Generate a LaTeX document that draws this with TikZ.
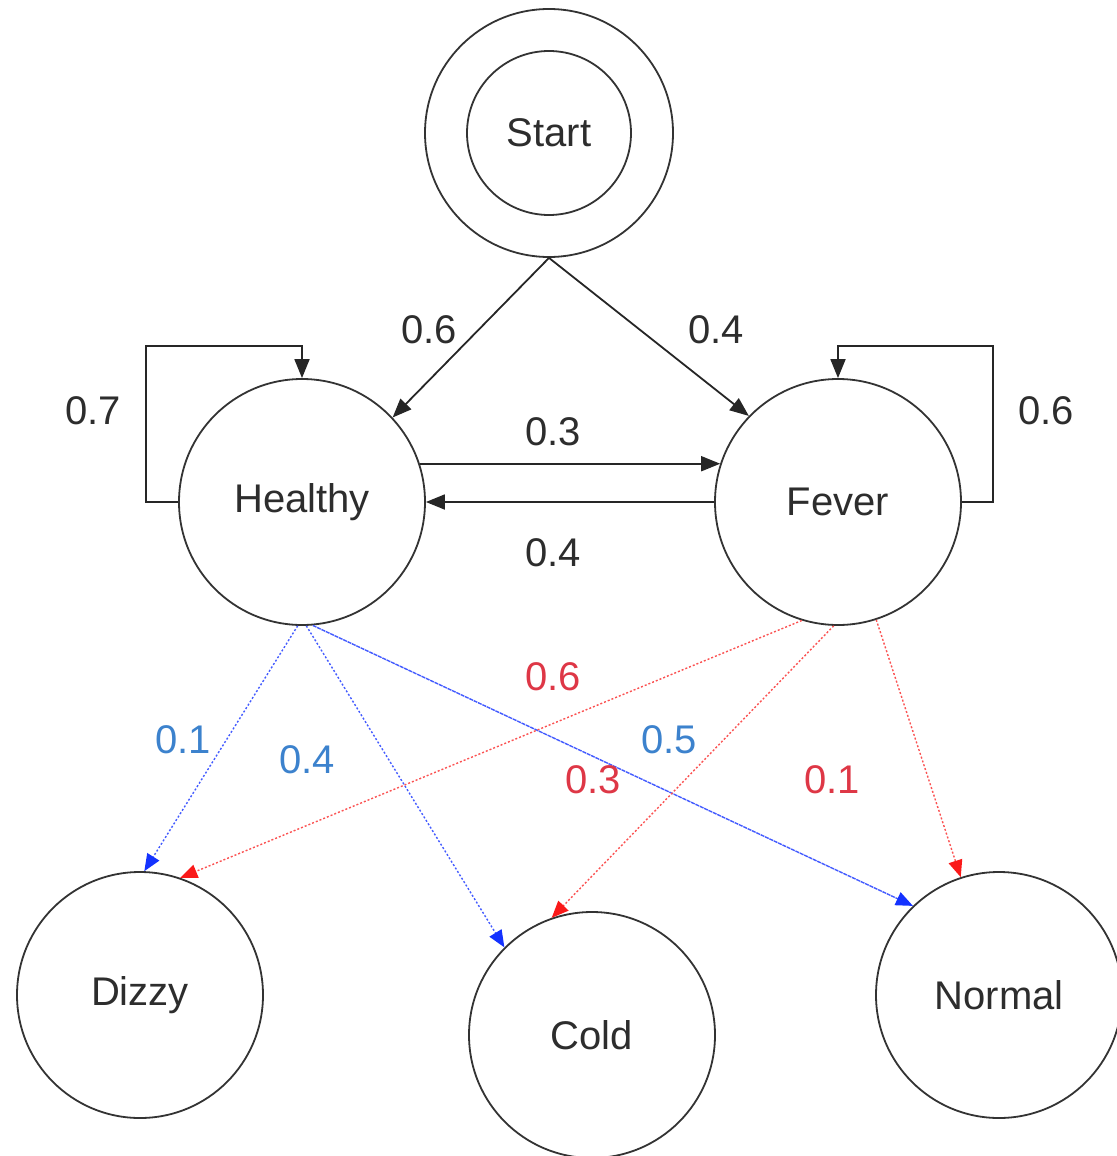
\documentclass[tikz,border=0pt]{standalone}
\usepackage{fontspec}
\setmainfont{Liberation Sans}
\usetikzlibrary{arrows.meta,calc}
\definecolor{txt}{RGB}{45,45,45}
\definecolor{bluelab}{RGB}{60,130,205}
\definecolor{redlab}{RGB}{222,55,70}
\definecolor{blueln}{RGB}{20,50,255}
\definecolor{redln}{RGB}{250,25,25}
\begin{document}
\begin{tikzpicture}[x=0.5pt,y=-0.5pt,
  state/.style={circle,draw=black!80,line width=0.9pt,minimum size=123pt,inner sep=0pt,text=txt,font=\fontsize{20}{24}\selectfont},
  lab/.style={text=txt,font=\fontsize{20}{24}\selectfont,inner sep=0pt},
  blab/.style={lab,text=bluelab},
  rlab/.style={lab,text=redlab},
  trans/.style={draw=black!85,line width=0.9pt,-{Triangle[length=9.5pt,width=7.5pt]}},
  bemit/.style={draw=blueln!80,line width=0.7pt,dash pattern=on 1pt off 1pt,-{Triangle[length=8.5pt,width=7pt,fill=blueln,color=blueln]}},
  remit/.style={draw=redln!75,line width=0.7pt,dash pattern=on 1pt off 1pt,-{Triangle[length=8.5pt,width=7pt,fill=redln,color=redln]}}]
\useasboundingbox (0,0) rectangle (1117,1156);
% states
\node[state,minimum size=124pt] (startouter) at (549,133) {};
\node[state,minimum size=82pt] (start) at (549,133) {Start};
\node[state] (healthy) at (302,502) {Healthy};
\node[state] (fever) at (838,502) {Fever};
\node[state] (dizzy) at (140,995) {Dizzy};
\node[state] (cold) at (592,1035) {Cold};
\node[state] (normal) at (999,995) {Normal};
% loop corners
\coordinate (hl1) at ($(healthy.west)+(-32,0)$);
\coordinate (hl2) at ($(healthy.north)+(0,-32)$);
\coordinate (fl1) at ($(fever.east)+(31,0)$);
\coordinate (fl2) at ($(fever.north)+(0,-32)$);
% transitions
\draw[trans] (startouter.south) -- (healthy.43);
\draw[trans] (startouter.south) -- (fever.136);
\draw[trans] (healthy.west) -- (hl1) |- (hl2) -- (healthy.north);
\draw[trans] (fever.east) -- (fl1) |- (fl2) -- (fever.north);
\draw[trans] (healthy.18) -- (fever.162);
\draw[trans] (fever.west) -- (healthy.east);
% emissions
\draw[bemit] (healthy.268) -- (dizzy.88);
\draw[bemit] (healthy.272) -- (cold.135);
\draw[bemit,dash pattern=on 2pt off 0.4pt] (healthy.275) -- (normal.134);
\draw[remit] (fever.253) -- (dizzy.71);
\draw[remit] (fever.268) -- (cold.109);
\draw[remit] (fever.-72) -- (normal.108);
% labels
\node[lab] (l1) at (429,330) {0.6};
\node[lab] (l2) at (716,330) {0.4};
\node[lab] (l3) at (93,411) {0.7};
\node[lab] (l4) at (1046,411) {0.6};
\node[lab] (l5) at (553,432) {0.3};
\node[lab] (l6) at (553,553) {0.4};
\node[blab] (e1) at (183,740) {0.1};
\node[blab] (e2) at (307,760) {0.4};
\node[blab] (e3) at (669,740) {0.5};
\node[rlab] (e4) at (553,677) {0.6};
\node[rlab] (e5) at (593,780) {0.3};
\node[rlab] (e6) at (832,780) {0.1};
\end{tikzpicture}
\end{document}
